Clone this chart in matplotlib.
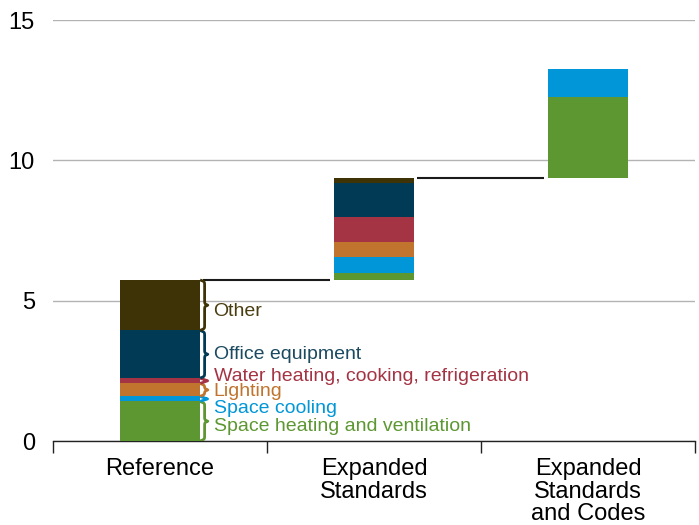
import matplotlib
matplotlib.use("Agg")
from matplotlib import pyplot as plt
import numpy as np

plt.rcParams['font.family'] = ['Liberation Sans', 'DejaVu Sans']

# data
categories = ["Reference", "Expanded\nStandards", "Expanded\nStandards\nand Codes"]
end_uses = ["Space heating and ventilation", "Space cooling", "Lighting",
            "Water heating, cooking, refrigeration", "Office equipment", "Other"]
reference = [1.41, 0.18, 0.46, 0.19, 1.70, 1.80]
expanded_standards = [0.25, 0.57, 0.53, 0.89, 1.20, 0.18]
expanded_codes = [2.90, 1.01, 0.0, 0.0, 0.0, 0.0]
label_y = [0.59, 1.23, 1.84, 2.37, 3.15, 4.68]

colors = ['#5d9732', '#0096d7', '#c0742d', '#a43343', '#013a55', '#3e3306']
text_colors = ['#5d9732', '#0096d7', '#c0742d', '#a43343', '#1b4a60', '#4a3d10']

series = [reference, expanded_standards, expanded_codes]
width = 0.375

fig = plt.figure(figsize=(6.99, 5.25), dpi=100)
ax = fig.add_axes([0.0758, 0.16, 0.9185, 0.8019])

# stacked waterfall bars
base = 0.0
tops = []
for i, vals in enumerate(series):
    bottom = base
    for v, c in zip(vals, colors):
        if v > 0:
            ax.bar(i, v, width, bottom=bottom, color=c, zorder=3)
        bottom += v
    tops.append(bottom)
    base = bottom

# connector lines between bars
for i in range(len(series) - 1):
    ax.plot([i + width / 2 + 0.015, i + 1 - width / 2 - 0.02], [tops[i], tops[i]],
            color='#1a1a1a', lw=1.5, zorder=4, solid_capstyle='butt')


# curly braces next to the reference bar
def brace(ax, x, y0, y1, w, color):
    half = np.linspace(y0, (y0 + y1) / 2, 60)
    beta = 45.0
    xs = 1 / (1 + np.exp(-beta * (half - half[0]))) + 1 / (1 + np.exp(-beta * (half - half[-1])))
    xs = np.concatenate((xs, xs[-2::-1]))
    ys = np.linspace(y0, y1, len(xs))
    ax.plot(x + (xs - 0.5) * w, ys, color=color, lw=2, zorder=4)


b = 0.0
for v, c, tc, lab, ly in zip(reference, colors, text_colors, end_uses, label_y):
    brace(ax, width / 2 + 0.006, b + 0.02, b + v - 0.02, 0.03, c)
    ax.text(width / 2 + 0.063, ly, lab, color=tc, fontsize=14, va='center_baseline', ha='left', zorder=5)
    b += v

ax.set_ylim(0, 15)
ax.set_xlim(-0.5, 2.5)
ax.set_yticks([0, 5, 10, 15])
ax.yaxis.grid(True, color='#b3b3b3', lw=1)
ax.set_axisbelow(True)
ax.tick_params(axis='y', length=0, labelsize=17, pad=13)

ax.set_xticks(range(3))
ax.set_xticklabels(categories, fontsize=17, linespacing=1.05, va='top')
ax.set_xticks([-0.5, 0.5, 1.5, 2.5], minor=True)
ax.tick_params(axis='x', which='major', length=0, pad=12)
ax.tick_params(axis='x', which='minor', length=8.6, width=1, color='#222222')

for s in ['top', 'right', 'left']:
    ax.spines[s].set_visible(False)
ax.spines['bottom'].set_color('#222222')
ax.spines['bottom'].set_linewidth(1)

fig.savefig('out.png', dpi=100)
